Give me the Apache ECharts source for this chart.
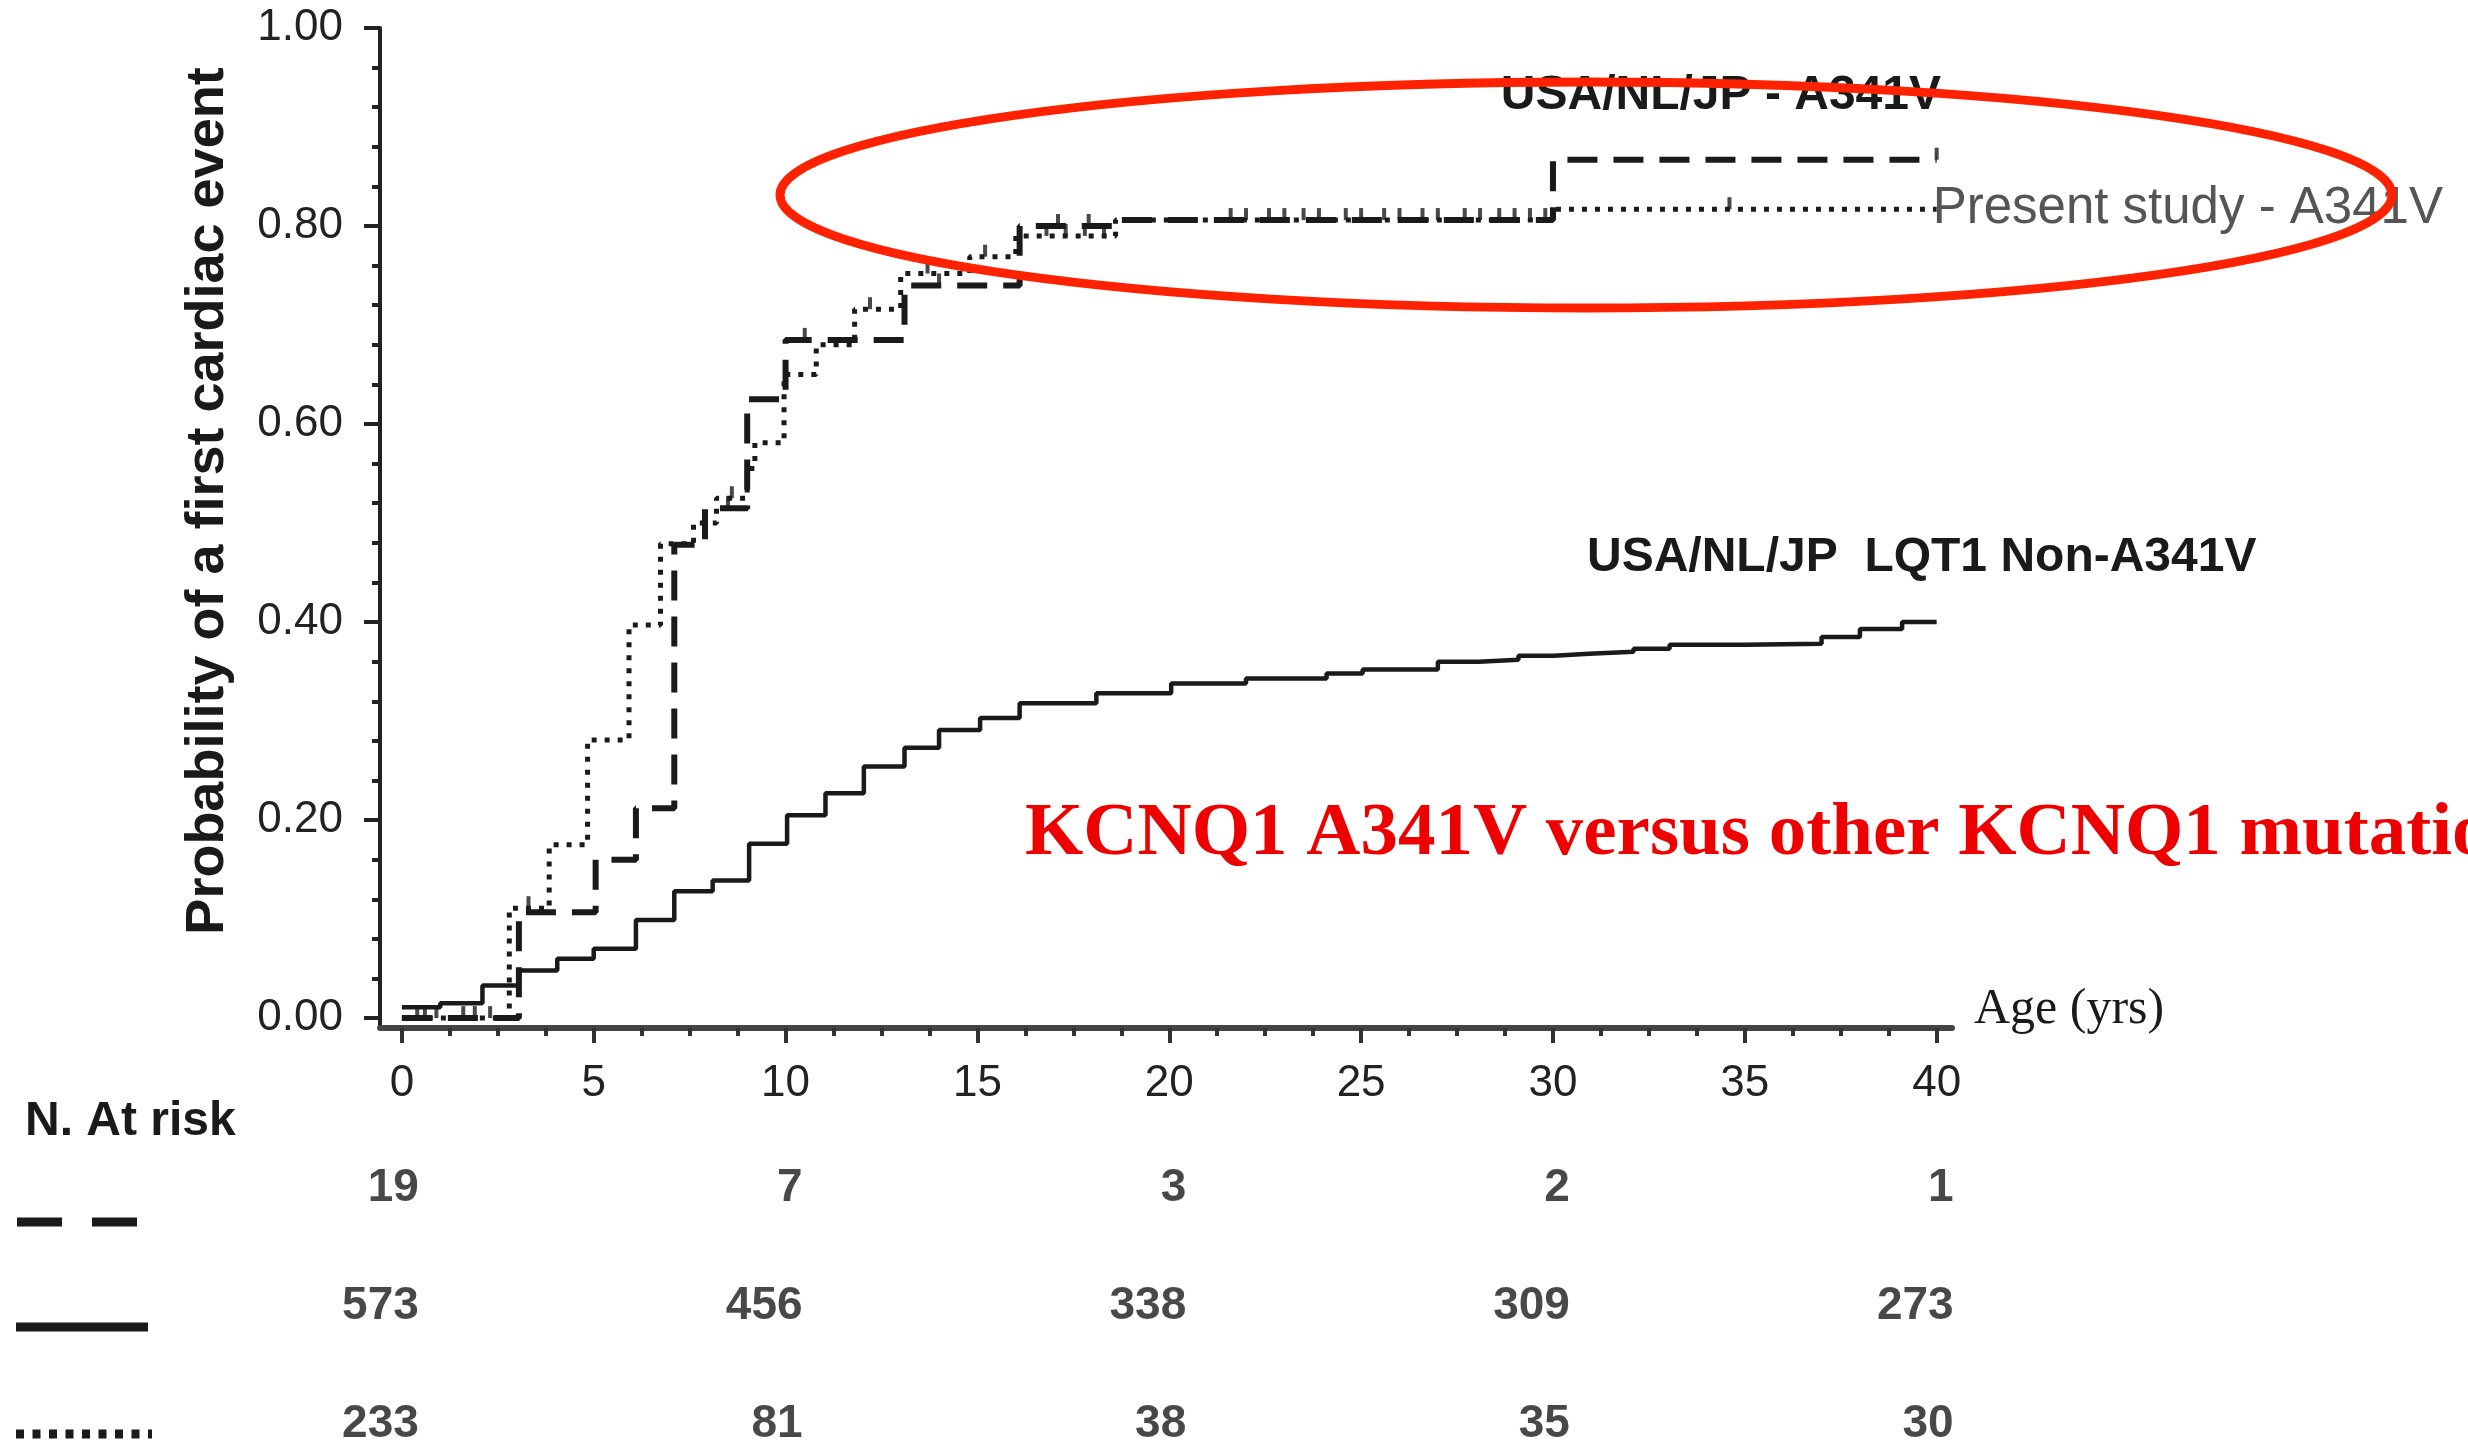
<!DOCTYPE html>
<html>
<head>
<meta charset="utf-8">
<script src="https://cdn.jsdelivr.net/npm/echarts@6/dist/echarts.min.js"></script>
<style>
  html, body { margin: 0; padding: 0; background: #fff; }
  #chart { width: 2468px; height: 1445px; }
</style>
</head>
<body>
<div id="chart"></div>
<script>
// Kaplan-Meier steps: [age (yrs), probability of a first cardiac event]
const usaA341V = [[0, 0], [3.05, 0.107], [5.05, 0.160], [6.1, 0.212], [7.1, 0.478], [7.9, 0.515],
  [9.0, 0.625], [10.0, 0.685], [13.1, 0.740], [16.1, 0.800], [18.6, 0.806], [30.0, 0.867], [40, 0.867]];
const presentA341V = [[0, 0], [2.8, 0.111], [3.84, 0.175], [4.84, 0.281], [5.92, 0.397], [6.74, 0.479],
  [7.6, 0.500], [8.2, 0.525], [9.0, 0.555], [9.2, 0.581], [9.96, 0.650], [10.8, 0.680], [11.8, 0.716],
  [13.0, 0.752], [14.8, 0.769], [16.0, 0.790], [18.6, 0.806], [30.0, 0.817], [40, 0.817]];
const lqt1NonA341V = [[0, 0.011], [1.0, 0.015], [2.1, 0.033], [3.05, 0.048], [4.05, 0.060], [5.0, 0.070],
  [6.1, 0.099], [7.1, 0.128], [8.1, 0.139], [9.05, 0.176], [10.04, 0.205], [11.04, 0.227], [12.04, 0.254],
  [13.1, 0.273], [14.0, 0.291], [15.07, 0.303], [16.1, 0.318], [18.1, 0.328], [20.05, 0.338], [22.0, 0.343],
  [24.1, 0.348], [25.04, 0.352], [27.0, 0.360], [28.06, 0.362], [29.1, 0.366], [30.03, 0.368], [30.94, 0.370],
  [32.1, 0.373], [33.04, 0.377], [35.0, 0.378], [37.0, 0.385], [38.0, 0.393], [39.1, 0.400], [40, 0.400]];

// Censored observations (tick marks on the A341V curves)
const usaCensored = [[0.4, 0], [0.9, 0], [1.6, 0], [2.3, 0], [8.5, 0.515], [10.5, 0.685], [14.0, 0.740],
  [17.1, 0.800], [17.9, 0.800], [21.6, 0.806], [22.6, 0.806], [23.5, 0.806], [24.6, 0.806], [25.6, 0.806],
  [26.6, 0.806], [27.7, 0.806], [28.6, 0.806], [29.4, 0.806], [40, 0.867]];
const presentCensored = [[0.6, 0], [1.9, 0], [3.3, 0.111], [8.6, 0.525], [12.2, 0.716], [13.7, 0.752],
  [15.2, 0.769], [16.8, 0.790], [17.3, 0.790], [17.8, 0.790], [18.3, 0.790], [22.0, 0.806], [23.0, 0.806],
  [23.9, 0.806], [25.0, 0.806], [26.0, 0.806], [27.0, 0.806], [28.1, 0.806], [29.0, 0.806], [29.8, 0.806],
  [34.6, 0.817]];

// Numbers at risk
const riskAges = [0, 10, 20, 30, 40];
const riskUsaA341V = [19, 7, 3, 2, 1];
const riskNonA341V = [573, 456, 338, 309, 273];
const riskPresent = [233, 81, 38, 35, 30];
const riskRows = ['usa', 'non', 'present'];

// Axis ticks
const xTicks = [0, 5, 10, 15, 20, 25, 30, 35, 40];
const xMinorTicks = [1.25, 2.5, 3.75, 6.25, 7.5, 8.75, 11.25, 12.5, 13.75, 16.25, 17.5, 18.75,
  21.25, 22.5, 23.75, 26.25, 27.5, 28.75, 31.25, 32.5, 33.75, 36.25, 37.5, 38.75];
const yTicks = [0, 0.2, 0.4, 0.6, 0.8, 1.0];
const yMinorTicks = [0.04, 0.08, 0.12, 0.16, 0.24, 0.28, 0.32, 0.36, 0.44, 0.48, 0.52, 0.56,
  0.64, 0.68, 0.72, 0.76, 0.84, 0.88, 0.92, 0.96];

const SANS = '"Liberation Sans", Arial, Helvetica, sans-serif';
const SERIF = '"Liberation Serif", "Times New Roman", serif';
const INK = '#1a1a1a';

const X_MIN = -0.57, X_MAX = 40.4, Y_MIN = -0.01, Y_MAX = 1.0;

function riskData(row, values) {
  return riskAges.map((a, i) => [a, row, values[i]]);
}

const riskLabel = {
  show: true,
  position: 'inside',
  align: 'right',
  offset: [17, 0],
  formatter: p => String(p.value[2]),
  fontFamily: SANS,
  fontWeight: 'bold',
  fontSize: 46,
  color: INK
};

function censorSeries(name, data) {
  return {
    name, type: 'scatter', xAxisIndex: 0, yAxisIndex: 0, data,
    symbol: 'rect', symbolSize: [4, 12], symbolOffset: [0, -6],
    itemStyle: { color: INK }, z: 6, silent: true
  };
}

const chart = echarts.init(document.getElementById('chart'), null, { renderer: 'canvas' });

chart.setOption({
  animation: false,
  backgroundColor: '#ffffff',
  grid: [
    { left: 380, top: 28, width: 1572, height: 1000 },
    { left: 380, top: 1188, width: 1572, height: 236 }
  ],
  xAxis: [
    {
      type: 'value', gridIndex: 0, position: 'bottom', min: X_MIN, max: X_MAX,
      axisLine: { show: true, onZero: false, lineStyle: { color: '#444', width: 6 } },
      axisTick: { show: true, customValues: xTicks, length: 15, lineStyle: { color: '#333', width: 4 } },
      axisLabel: { show: true, customValues: xTicks, margin: 34, fontSize: 44, fontFamily: SANS, color: '#222' },
      splitLine: { show: false }
    },
    {
      type: 'value', gridIndex: 0, position: 'bottom', min: X_MIN, max: X_MAX,
      axisLine: { show: false, onZero: false },
      axisTick: { show: true, customValues: xMinorTicks, length: 8, lineStyle: { color: '#333', width: 4 } },
      axisLabel: { show: false },
      splitLine: { show: false }
    },
    { type: 'value', gridIndex: 1, min: X_MIN, max: X_MAX, show: false }
  ],
  yAxis: [
    {
      type: 'value', gridIndex: 0, position: 'left', min: Y_MIN, max: Y_MAX,
      axisLine: { show: true, onZero: false, lineStyle: { color: '#222', width: 4 } },
      axisTick: { show: true, customValues: yTicks, length: 16, lineStyle: { color: '#222', width: 4 } },
      axisLabel: {
        show: true, customValues: yTicks, margin: 37, fontSize: 44, fontFamily: SANS, color: '#222',
        formatter: v => v.toFixed(2)
      },
      splitLine: { show: false }
    },
    {
      type: 'value', gridIndex: 0, position: 'left', min: Y_MIN, max: Y_MAX,
      axisLine: { show: false, onZero: false },
      axisTick: { show: true, customValues: yMinorTicks, length: 8, lineStyle: { color: '#222', width: 4 } },
      axisLabel: { show: false },
      splitLine: { show: false }
    },
    { type: 'category', gridIndex: 1, data: riskRows, inverse: true, boundaryGap: false, show: false }
  ],
  series: [
    {
      name: 'USA/NL/JP LQT1 Non-A341V', type: 'line', step: 'end', xAxisIndex: 0, yAxisIndex: 0,
      data: lqt1NonA341V, showSymbol: false, symbol: 'none',
      lineStyle: { color: INK, width: 4.5 }, z: 3
    },
    {
      name: 'USA/NL/JP - A341V', type: 'line', step: 'end', xAxisIndex: 0, yAxisIndex: 0,
      data: usaA341V, showSymbol: false, symbol: 'none',
      lineStyle: { color: INK, width: 6, type: [30, 16], cap: 'butt' }, z: 4
    },
    {
      name: 'Present study - A341V', type: 'line', step: 'end', xAxisIndex: 0, yAxisIndex: 0,
      data: presentA341V, showSymbol: false, symbol: 'none',
      lineStyle: { color: INK, width: 5, type: [5, 8], cap: 'butt' }, z: 5,
      endLabel: {
        show: true, formatter: 'Present study - A341V', distance: -4,
        fontSize: 51, fontFamily: SANS, color: '#555'
      }
    },
    censorSeries('usaCensored', usaCensored),
    censorSeries('presentCensored', presentCensored),
    {
      name: 'riskUsa', type: 'scatter', xAxisIndex: 2, yAxisIndex: 2,
      data: riskData('usa', riskUsaA341V), symbolSize: 1, itemStyle: { color: 'transparent' }, label: riskLabel
    },
    {
      name: 'riskNon', type: 'scatter', xAxisIndex: 2, yAxisIndex: 2,
      data: riskData('non', riskNonA341V), symbolSize: 1, itemStyle: { color: 'transparent' }, label: riskLabel
    },
    {
      name: 'riskPresent', type: 'scatter', xAxisIndex: 2, yAxisIndex: 2,
      data: riskData('present', riskPresent), symbolSize: 1, itemStyle: { color: 'transparent' }, label: riskLabel
    }
  ],
  graphic: [
    {
      type: 'text', x: 208, y: 501, rotation: Math.PI / 2,
      style: {
        text: 'Probability of a first cardiac event', font: 'bold 54px ' + SANS, fill: INK,
        align: 'center', verticalAlign: 'middle', textAlign: 'center', textVerticalAlign: 'middle'
      }
    },
    {
      type: 'text', x: 1941, y: 96,
      style: {
        text: 'USA/NL/JP - A341V', font: 'bold 48px ' + SANS, fill: INK,
        align: 'right', verticalAlign: 'middle', textAlign: 'right', textVerticalAlign: 'middle'
      }
    },
    {
      type: 'text', x: 1587, y: 558,
      style: {
        text: 'USA/NL/JP  LQT1 Non-A341V', font: 'bold 48px ' + SANS, fill: INK,
        align: 'left', verticalAlign: 'middle', textAlign: 'left', textVerticalAlign: 'middle'
      }
    },
    {
      type: 'text', x: 1974, y: 1010,
      style: {
        text: 'Age (yrs)', font: '50px ' + SERIF, fill: INK,
        align: 'left', verticalAlign: 'middle', textAlign: 'left', textVerticalAlign: 'middle'
      }
    },
    {
      type: 'text', x: 25, y: 1122,
      style: {
        text: 'N. At risk', font: 'bold 48px ' + SANS, fill: INK,
        align: 'left', verticalAlign: 'middle', textAlign: 'left', textVerticalAlign: 'middle'
      }
    },
    {
      type: 'text', x: 1025, y: 835, z: 20,
      style: {
        text: 'KCNQ1 A341V versus other KCNQ1 mutations', font: 'bold 75px ' + SERIF, fill: '#ee0000',
        align: 'left', verticalAlign: 'middle', textAlign: 'left', textVerticalAlign: 'middle'
      }
    },
    // legend strokes of the at-risk table
    {
      type: 'line', shape: { x1: 17, y1: 1222, x2: 137, y2: 1222 },
      style: { stroke: INK, lineWidth: 9, lineDash: [45, 30] }
    },
    {
      type: 'line', shape: { x1: 16, y1: 1327, x2: 148, y2: 1327 },
      style: { stroke: INK, lineWidth: 9 }
    },
    {
      type: 'line', shape: { x1: 16, y1: 1434, x2: 152, y2: 1434 },
      style: { stroke: INK, lineWidth: 9, lineDash: [8, 8.5] }
    },
    // highlight ring around the A341V curves
    {
      type: 'ellipse', z: 30,
      shape: { cx: 1586, cy: 195, rx: 806, ry: 113 },
      style: { fill: 'none', stroke: '#ff2200', lineWidth: 9 }
    }
  ]
});
</script>
</body>
</html>
